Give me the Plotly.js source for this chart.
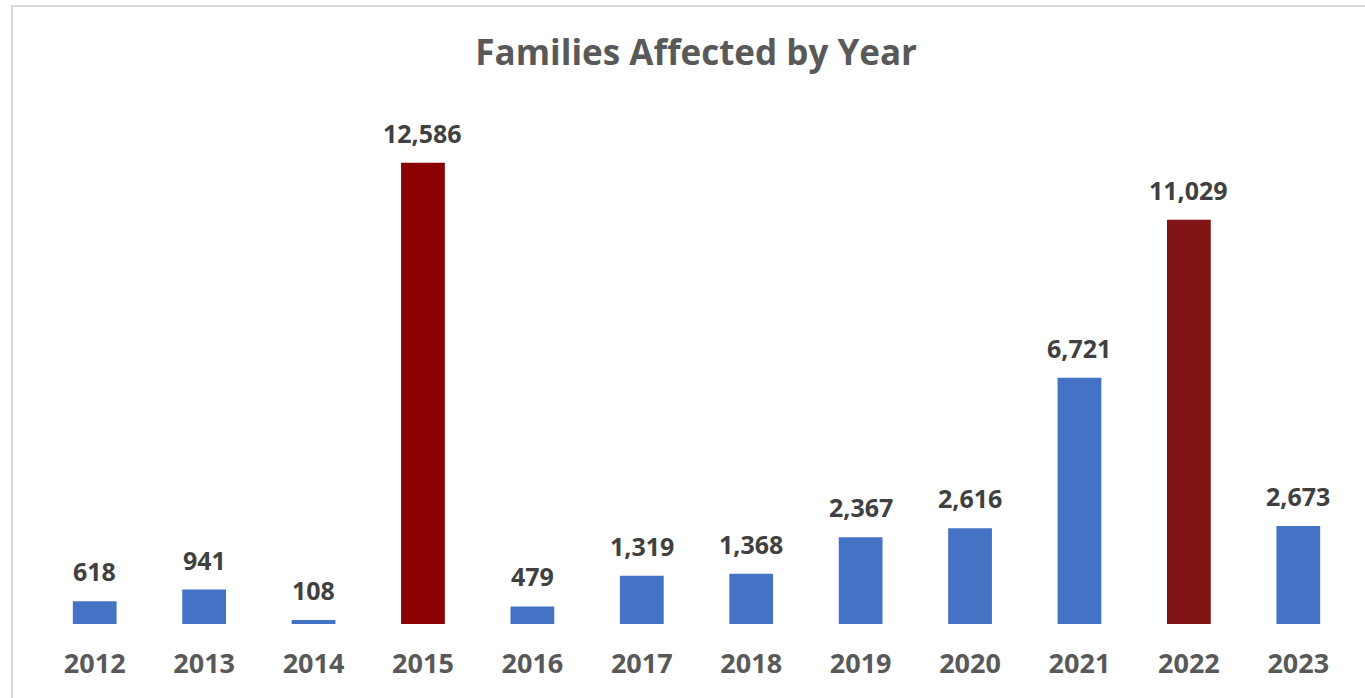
<!DOCTYPE html>
<html>
<head>
<meta charset="utf-8">
<script src="https://cdn.plot.ly/plotly-3.0.1.min.js"></script>
<style>
  html, body { margin: 0; padding: 0; background: #ffffff; }
  #wrap { position: relative; width: 1365px; height: 698px; overflow: hidden; }
  #chart { position: absolute; left: 0; top: 0; width: 1365px; height: 698px; }
  #frame { position: absolute; left: 11px; top: 5px; width: 1400px; height: 740px;
           border: 2px solid #D9D9D9; box-sizing: border-box; pointer-events: none; }
</style>
</head>
<body>
<div id="wrap">
  <div id="chart"></div>
  <div id="frame"></div>
</div>
<script>
const years = ['2012','2013','2014','2015','2016','2017','2018','2019','2020','2021','2022','2023'];
const families = [618, 941, 108, 12586, 479, 1319, 1368, 2367, 2616, 6721, 11029, 2673];
const barColors = ['#4472C4','#4472C4','#4472C4','#8B0000','#4472C4','#4472C4','#4472C4','#4472C4','#4472C4','#4472C4','#7F1315','#4472C4'];

const fmt = v => v.toLocaleString('en-US');

const trace = {
  type: 'bar',
  x: years,
  y: families,
  marker: { color: barColors },
  hoverinfo: 'x+y'
};

const annotations = years.map((yr, i) => ({
  x: i, y: families[i], xref: 'x', yref: 'y',
  text: fmt(families[i]),
  showarrow: false, yanchor: 'bottom', yshift: 11,
  font: { family: 'Open Sans, sans-serif', size: 25, color: '#404040', weight: 'bold' }
}));

const layout = {
  width: 1365, height: 698,
  paper_bgcolor: 'rgba(0,0,0,0)', plot_bgcolor: 'rgba(0,0,0,0)',
  margin: { l: 40, r: 12, t: 111, b: 74 },
  bargap: 0.6,
  showlegend: false,
  title: {
    text: '<b>Families Affected by Year</b>',
    x: 0.51, xanchor: 'center', y: 0.925, yanchor: 'middle',
    font: { family: 'Open Sans, sans-serif', size: 35, color: '#595959' }
  },
  xaxis: {
    type: 'category',
    range: [-0.5, 11.5],
    showline: false, showgrid: false, zeroline: false,
    ticks: '', ticklabelstandoff: 21,
    tickfont: { family: 'Open Sans, sans-serif', size: 27, color: '#595959', weight: 'bold' }
  },
  yaxis: {
    range: [0, 14000],
    visible: false, showgrid: false, zeroline: false
  },
  annotations: annotations
};

Plotly.newPlot('chart', [trace], layout, { staticPlot: true });
</script>
</body>
</html>
